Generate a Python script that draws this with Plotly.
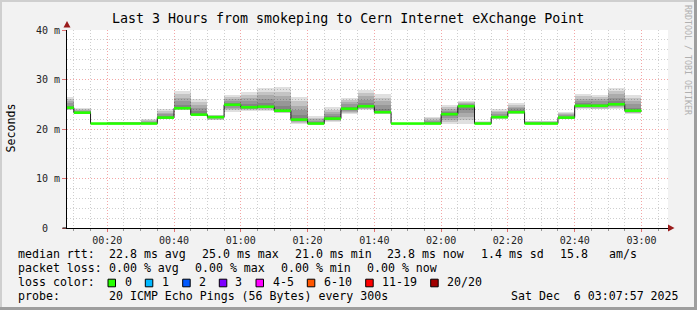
import pandas as pd
import plotly.graph_objects as go

# ---------------- data ----------------
step_end = ["00:10", "00:15", "00:20", "00:25", "00:30", "00:35", "00:40", "00:45",
            "00:50", "00:55", "01:00", "01:05", "01:10", "01:15", "01:20", "01:25",
            "01:30", "01:35", "01:40", "01:45", "01:50", "01:55", "02:00", "02:05",
            "02:10", "02:15", "02:20", "02:25", "02:30", "02:35", "02:40", "02:45",
            "02:50", "02:55", "03:00"]
median_ms = [24.3, 23.3, 21.1, 21.1, 21.1, 21.1, 22.3, 24.2,
             22.9, 22.4, 24.9, 24.4, 24.5, 23.7, 21.9, 21.1,
             22.1, 24.1, 24.6, 23.4, 21.1, 21.1, 21.1, 23.0,
             24.6, 21.1, 22.4, 23.4, 21.1, 21.1, 22.3, 24.7,
             24.7, 25.0, 23.7]
smoke_lo_ms = [23.8, 23.0, 21.0, 21.0, 21.0, 21.0, 22.0, 23.8,
               22.7, 21.8, 23.5, 23.7, 23.7, 23.2, 21.1, 20.9,
               21.5, 23.0, 23.8, 23.0, 21.0, 21.0, 21.0, 21.0,
               21.1, 21.0, 22.0, 23.0, 21.0, 21.0, 22.0, 24.1,
               24.0, 24.1, 23.0]
smoke_hi_ms = [26.5, 24.2, 21.3, 21.5, 21.5, 22.0, 24.0, 27.7,
               26.1, 22.9, 26.9, 27.5, 28.3, 28.5, 26.5, 22.6,
               24.4, 26.3, 27.9, 27.1, 21.3, 21.3, 22.4, 24.8,
               25.6, 21.6, 24.0, 25.3, 21.7, 21.7, 23.4, 27.1,
               26.9, 28.3, 26.9]

title_text = "Last 3 Hours from smokeping to Cern Internet eXchange Point"
y_tick_vals = [0, 10, 20, 30, 40]
y_tick_text = ["0\u00a0\u00a0", "10 m", "20 m", "30 m", "40 m"]
rtt_stats = ["22.8 ms avg", "25.0 ms max", "21.0 ms min", "23.8 ms now", "1.4 ms sd", "15.8", "am/s"]
loss_stats = ["0.00 % avg", "0.00 % max", "0.00 % min", "0.00 % now"]
loss_labels = ["0", "1", "2", "3", "4-5", "6-10", "11-19", "20/20"]
loss_colors = ["#26ff00", "#00b8ff", "#0059ff", "#7e00ff", "#ff00ff", "#ff5500", "#ff0000", "#a10000"]
probe_text = "20 ICMP Echo Pings (56 Bytes) every 300s"
date_text = "Sat Dec\u00a0\u00a06 03:07:57 2025"
day = "2025-12-06"
x_start, x_end = day + " 00:07:57", day + " 03:07:57"

# ---------------- geometry ----------------
W, H = 697, 310
L, R, T, B = 67, 668, 30, 228
PW, PH = R - L, B - T


def px(xp):
    return (xp - L) / PW


def py(yp):
    return (B - yp) / PH


ends = pd.to_datetime([f"{day} {t}" for t in step_end])
step = pd.Timedelta(minutes=5)
starts = ends - step
centers = ends - step / 2

fig = go.Figure()

# smoke: nested translucent bands
NL = 5
for k in range(NL):
    f = (NL - k) / NL
    lo = [m - (m - a) * f for m, a in zip(median_ms, smoke_lo_ms)]
    hi = [m + (b - m) * f for m, b in zip(median_ms, smoke_hi_ms)]
    fig.add_trace(go.Bar(
        x=centers, base=lo, y=[h - l for h, l in zip(hi, lo)],
        width=step.total_seconds() * 1000,
        marker=dict(color="rgba(0,0,0,0.12)", line=dict(width=0)),
        hoverinfo="skip", showlegend=False))

# black median step line
fig.add_trace(go.Scatter(
    x=list(starts) + [ends[-1]], y=median_ms + [median_ms[-1]],
    mode="lines", line=dict(color="#1a1a1a", width=1, shape="hv"),
    hoverinfo="skip", showlegend=False))

# green loss-coloured median segments
gx, gy = [], []
for s, e, m in zip(starts, ends, median_ms):
    gx += [s, e, None]
    gy += [m, m, None]
fig.add_trace(go.Scatter(
    x=gx, y=gy, mode="lines", line=dict(color=loss_colors[0], width=2.6),
    hoverinfo="skip", showlegend=False))

mono = "DejaVu Sans Mono"

fig.update_layout(
    width=W, height=H, autosize=False,
    margin=dict(l=L, r=W - R, t=T, b=H - B),
    paper_bgcolor="#f2f2f2", plot_bgcolor="#ffffff",
    barmode="overlay", bargap=0,
    font=dict(family=mono, size=10, color="#222"),
    showlegend=False,
)
fig.update_xaxes(
    type="date", range=[x_start, x_end],
    tick0=day + " 00:00", dtick=20 * 60 * 1000, tickformat="%H:%M",
    showgrid=True, gridcolor="#f4a6a6", griddash="1px,2px", gridwidth=1,
    minor=dict(dtick=5 * 60 * 1000, showgrid=True, gridcolor="#cfcfcf",
               griddash="1px,2px", ticks="outside", ticklen=2, tickcolor="#999"),
    ticks="outside", ticklen=3, tickcolor="#e07070",
    showline=True, linecolor="#000", linewidth=1,
    tickfont=dict(family=mono, size=10, color="#222"),
    zeroline=False, fixedrange=True,
)
fig.update_yaxes(
    range=[0, 40], tickvals=y_tick_vals, ticktext=y_tick_text,
    showgrid=True, gridcolor="#f4a6a6", griddash="1px,2px", gridwidth=1,
    minor=dict(dtick=2, showgrid=True, gridcolor="#cfcfcf", griddash="1px,2px"),
    ticks="outside", ticklen=4, tickcolor="#e07070",
    showline=True, linecolor="#000", linewidth=1,
    tickfont=dict(family=mono, size=10, color="#222"),
    zeroline=False, fixedrange=True,
)

ann = []


def text(x, y, s, size=11.6, anchor="left", color="#000", angle=0, fam=mono):
    ann.append(dict(x=px(x), y=py(y), xref="paper", yref="paper", text=s,
                    showarrow=False, xanchor=anchor, yanchor="middle",
                    textangle=angle, font=dict(family=fam, size=size, color=color)))


text(348, 18, title_text, size=13.3, anchor="center")
text(10.5, 128, "Seconds", size=11.6, anchor="center", angle=-90)
text(688, 60, "RRDTOOL / TOBI OETIKER", size=8.3, anchor="center", color="#b0b0b0", angle=90)

# legend rows
text(16, 254, "median rtt:")
for xp, s in zip([107.3, 200, 293.3, 385, 479, 558.3, 606.7], rtt_stats):
    text(xp, 254, s)
text(16, 268, "packet loss:")
for xp, s in zip([107.3, 193.3, 279.3, 365], loss_stats):
    text(xp, 268, s)
text(16, 282, "loss color:")
box_x = [108, 145.3, 182.7, 219.3, 256, 307.3, 365.7, 430.7]
lab_x = [123.3, 160, 196.7, 233.3, 270.7, 322, 380, 445]
shapes = []
for bx, lx, lab, col in zip(box_x, lab_x, loss_labels, loss_colors):
    shapes.append(dict(type="rect", xref="paper", yref="paper",
                       x0=px(bx), x1=px(bx + 7.5), y0=py(286.8), y1=py(279.2),
                       fillcolor=col, line=dict(color="#000", width=1)))
    text(lx, 282, lab)
text(16, 296, "probe:")
text(107.3, 296, probe_text)
text(681, 296, date_text, anchor="right")

# axis arrows
shapes.append(dict(type="path", xref="paper", yref="paper",
                   path=f"M {px(668)} {py(224.5)} L {px(668)} {py(231.5)} L {px(674.5)} {py(228)} Z",
                   fillcolor="#9a1c1c", line=dict(width=0)))
shapes.append(dict(type="path", xref="paper", yref="paper",
                   path=f"M {px(63.5)} {py(27.5)} L {px(70.5)} {py(27.5)} L {px(67)} {py(21)} Z",
                   fillcolor="#9a1c1c", line=dict(width=0)))
# x axis line extension left of y axis
shapes.append(dict(type="line", xref="paper", yref="paper",
                   x0=px(62.5), x1=px(67), y0=py(228), y1=py(228),
                   line=dict(color="#000", width=1)))
# 3D frame
shapes.append(dict(type="line", xref="paper", yref="paper", x0=px(0), x1=px(697), y0=py(1), y1=py(1),
                   line=dict(color="#cfcfcf", width=2)))
shapes.append(dict(type="line", xref="paper", yref="paper", x0=px(1), x1=px(1), y0=py(0), y1=py(310),
                   line=dict(color="#cfcfcf", width=2)))
shapes.append(dict(type="line", xref="paper", yref="paper", x0=px(0), x1=px(697), y0=py(308.5), y1=py(308.5),
                   line=dict(color="#9e9e9e", width=3)))
shapes.append(dict(type="line", xref="paper", yref="paper", x0=px(695.5), x1=px(695.5), y0=py(0), y1=py(310),
                   line=dict(color="#9e9e9e", width=3)))

fig.update_layout(annotations=ann, shapes=shapes)
fig.write_html("out.html")
